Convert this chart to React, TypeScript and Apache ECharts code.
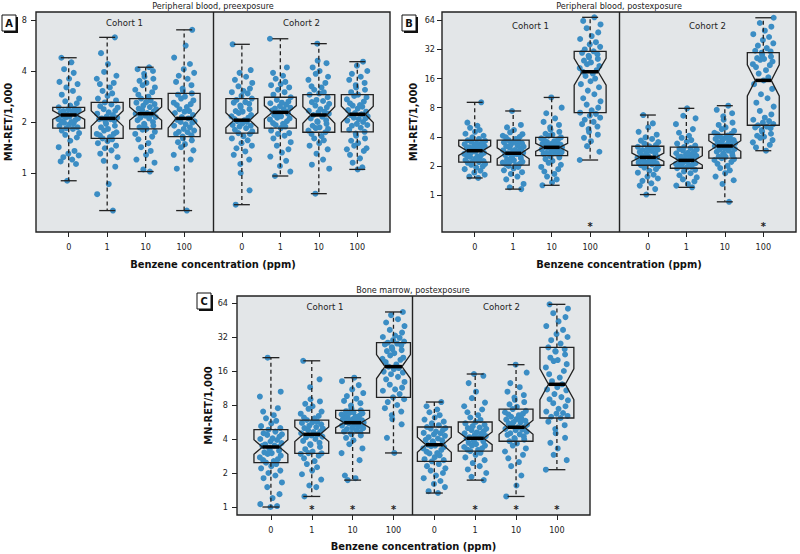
import { useEffect, useRef } from 'react';
import * as echarts from 'echarts';

// ---------------- data ----------------
const CONC_LABELS = ['0', '1', '10', '100'];
const COHORT_LABELS = ['Cohort 1', 'Cohort 2'];
const PANEL_TITLES = ['Peripheral blood, preexposure', 'Peripheral blood, postexposure', 'Bone marrow, postexposure'];
const PANEL_LETTERS = ['A', 'B', 'C'];
const X_TITLE = 'Benzene concentration (ppm)';
const Y_TITLE = 'MN-RET/1,000';
const Y_TICKS_A = [1, 2, 4, 8];
const Y_TICKS_BC = [1, 2, 4, 8, 16, 32, 64];

// box statistics per group: [lower whisker, Q1, median, Q3, upper whisker]
// group order: cohort 1 (0, 1, 10, 100 ppm), cohort 2 (0, 1, 10, 100 ppm)
const A_BOX = [
  [0.90, 1.84, 2.20, 2.44, 4.79],
  [0.60, 1.60, 2.10, 2.61, 6.32],
  [1.02, 1.82, 2.24, 2.75, 4.21],
  [0.60, 1.64, 2.10, 2.95, 7.0],
  [0.65, 1.72, 2.05, 2.75, 5.75],
  [0.96, 1.84, 2.28, 2.80, 6.2],
  [0.755, 1.74, 2.20, 2.90, 5.80],
  [1.05, 1.75, 2.22, 2.90, 4.54],
];
const B_BOX = [
  [1.50, 2.19, 2.87, 3.68, 9.08],
  [1.15, 2.04, 2.70, 3.70, 7.39],
  [1.26, 2.55, 3.11, 3.95, 10.2],
  [2.30, 7.09, 18.8, 30.6, 68.7],
  [1.01, 2.03, 2.45, 3.19, 6.71],
  [1.20, 1.89, 2.28, 3.13, 7.87],
  [0.85, 2.40, 3.21, 4.24, 8.38],
  [2.87, 5.26, 15.3, 29.6, 68.0],
];
const C_BOX = [
  [1.0, 2.47, 3.40, 4.84, 21.0],
  [1.24, 2.99, 4.40, 5.89, 19.7],
  [1.73, 4.52, 5.58, 7.18, 13.96],
  [3.01, 9.36, 17.5, 28.5, 53.3],
  [1.33, 2.54, 3.56, 5.11, 8.50],
  [1.73, 3.13, 4.06, 5.66, 15.05],
  [1.24, 3.82, 5.08, 7.37, 18.2],
  [2.14, 6.14, 12.2, 25.9, 62.3],
];

// significance markers (*) per group
const B_STAR = [false, false, false, true, false, false, false, true];
const C_STAR = [false, true, true, true, false, true, true, true];

// individual animals (MN-RET per 1,000)
const A_PTS = [
  [0.90, 1.13, 1.17, 1.2, 1.24, 1.27, 1.3, 1.35, 1.42, 1.55, 1.62, 1.68, 1.72, 1.78, 1.82, 1.84, 1.86, 1.9, 1.93, 1.96, 1.98, 2.0, 2.02, 2.05, 2.08, 2.1, 2.12, 2.15, 2.18, 2.2, 2.2, 2.22, 2.25, 2.27, 2.3, 2.32, 2.35, 2.38, 2.4, 2.44, 2.5, 2.58, 2.65, 2.75, 2.9, 3.05, 3.2, 3.35, 3.45, 3.6, 3.9, 4.1, 4.5, 4.79],
  [0.60, 0.75, 0.86, 1.09, 1.18, 1.24, 1.3, 1.36, 1.4, 1.45, 1.5, 1.54, 1.58, 1.6, 1.63, 1.67, 1.7, 1.7, 1.74, 1.78, 1.82, 1.86, 1.9, 1.95, 2.0, 2.04, 2.08, 2.08, 2.1, 2.12, 2.16, 2.2, 2.24, 2.28, 2.33, 2.38, 2.43, 2.48, 2.54, 2.61, 2.68, 2.75, 2.85, 2.95, 3.05, 3.2, 3.35, 3.4, 3.6, 3.75, 3.95, 4.4, 5.1, 6.32],
  [1.02, 1.05, 1.15, 1.2, 1.28, 1.35, 1.42, 1.5, 1.58, 1.64, 1.7, 1.75, 1.8, 1.82, 1.86, 1.9, 1.92, 1.95, 2.0, 2.05, 2.1, 2.12, 2.14, 2.18, 2.22, 2.24, 2.26, 2.3, 2.35, 2.38, 2.4, 2.45, 2.5, 2.55, 2.6, 2.62, 2.68, 2.75, 2.82, 2.9, 3.0, 3.1, 3.2, 3.3, 3.4, 3.5, 3.6, 3.7, 3.85, 4.0, 4.1, 4.21],
  [0.60, 1.06, 1.2, 1.28, 1.36, 1.42, 1.48, 1.52, 1.56, 1.6, 1.64, 1.67, 1.7, 1.74, 1.75, 1.78, 1.82, 1.86, 1.9, 1.94, 1.98, 2.0, 2.02, 2.06, 2.1, 2.14, 2.2, 2.26, 2.3, 2.32, 2.38, 2.45, 2.52, 2.55, 2.6, 2.68, 2.75, 2.82, 2.9, 2.95, 3.05, 3.15, 3.3, 3.45, 3.6, 3.75, 3.9, 4.1, 4.4, 4.8, 5.65, 7.0],
  [0.65, 0.79, 1.0, 1.13, 1.2, 1.28, 1.34, 1.4, 1.45, 1.5, 1.56, 1.6, 1.65, 1.7, 1.72, 1.76, 1.8, 1.84, 1.88, 1.9, 1.92, 1.96, 2.0, 2.02, 2.05, 2.08, 2.12, 2.16, 2.2, 2.26, 2.3, 2.32, 2.38, 2.45, 2.5, 2.56, 2.6, 2.62, 2.7, 2.75, 2.85, 2.95, 3.0, 3.05, 3.15, 3.25, 3.4, 3.55, 3.7, 3.9, 4.05, 5.75],
  [0.96, 1.02, 1.1, 1.18, 1.25, 1.32, 1.38, 1.45, 1.52, 1.6, 1.66, 1.7, 1.72, 1.78, 1.84, 1.88, 1.92, 1.95, 1.97, 2.02, 2.07, 2.1, 2.12, 2.16, 2.2, 2.24, 2.26, 2.28, 2.3, 2.34, 2.38, 2.4, 2.43, 2.48, 2.53, 2.58, 2.6, 2.64, 2.7, 2.8, 2.9, 3.0, 3.1, 3.2, 3.3, 3.35, 3.45, 3.6, 3.75, 3.9, 4.2, 6.2],
  [0.755, 1.06, 1.12, 1.2, 1.3, 1.38, 1.45, 1.5, 1.56, 1.6, 1.65, 1.7, 1.74, 1.78, 1.82, 1.84, 1.86, 1.9, 1.95, 2.0, 2.02, 2.05, 2.1, 2.15, 2.2, 2.24, 2.28, 2.3, 2.33, 2.38, 2.44, 2.5, 2.56, 2.62, 2.66, 2.7, 2.8, 2.9, 2.95, 3.0, 3.1, 3.2, 3.25, 3.4, 3.55, 3.7, 3.85, 4.0, 4.2, 4.45, 4.6, 5.8],
  [1.05, 1.08, 1.15, 1.22, 1.28, 1.35, 1.38, 1.4, 1.45, 1.5, 1.55, 1.6, 1.66, 1.71, 1.75, 1.8, 1.85, 1.9, 1.92, 1.95, 2.0, 2.04, 2.08, 2.1, 2.12, 2.16, 2.2, 2.22, 2.26, 2.3, 2.35, 2.4, 2.46, 2.5, 2.52, 2.58, 2.64, 2.72, 2.8, 2.85, 2.9, 3.0, 3.1, 3.2, 3.3, 3.4, 3.55, 3.7, 3.85, 4.0, 4.3, 4.54],
];
const B_PTS = [
  [1.5, 1.55, 1.62, 1.7, 1.78, 1.85, 1.92, 1.98, 2.05, 2.1, 2.15, 2.19, 2.2, 2.24, 2.3, 2.36, 2.42, 2.48, 2.5, 2.55, 2.6, 2.66, 2.72, 2.78, 2.8, 2.84, 2.87, 2.9, 2.95, 3.0, 3.06, 3.1, 3.12, 3.18, 3.25, 3.32, 3.35, 3.4, 3.48, 3.56, 3.62, 3.68, 3.8, 3.95, 4.1, 4.3, 4.5, 4.7, 4.95, 5.2, 5.6, 9.08],
  [1.15, 1.2, 1.3, 1.45, 1.55, 1.65, 1.72, 1.8, 1.88, 1.95, 2.0, 2.04, 2.08, 2.1, 2.16, 2.2, 2.22, 2.28, 2.34, 2.4, 2.46, 2.52, 2.58, 2.6, 2.64, 2.7, 2.74, 2.8, 2.86, 2.9, 2.92, 3.0, 3.08, 3.16, 3.2, 3.24, 3.32, 3.42, 3.5, 3.52, 3.62, 3.7, 3.8, 3.95, 4.0, 4.1, 4.25, 4.45, 4.7, 5.0, 5.3, 7.39],
  [1.26, 1.35, 1.45, 1.55, 1.65, 1.75, 1.85, 1.95, 2.05, 2.15, 2.25, 2.35, 2.45, 2.5, 2.55, 2.6, 2.66, 2.7, 2.72, 2.78, 2.84, 2.9, 2.96, 3.0, 3.02, 3.08, 3.11, 3.15, 3.2, 3.26, 3.32, 3.38, 3.4, 3.45, 3.52, 3.6, 3.68, 3.76, 3.85, 3.95, 4.1, 4.2, 4.3, 4.5, 4.75, 5.0, 5.3, 5.7, 6.2, 7.0, 8.0, 10.2],
  [2.3, 2.8, 3.2, 3.6, 3.9, 4.2, 4.5, 4.8, 5.1, 5.4, 5.7, 6.0, 6.3, 6.6, 6.9, 7.09, 7.5, 8.0, 8.6, 9.3, 10.0, 11.0, 12.0, 13.0, 14.0, 15.0, 16.0, 17.0, 18.0, 18.8, 19.5, 20.5, 21.5, 22.5, 23.5, 24.5, 25.5, 26.5, 27.5, 28.5, 29.5, 30.6, 32, 34, 36, 38, 41, 44, 48, 53, 58, 63, 68.7],
  [1.01, 1.15, 1.25, 1.32, 1.4, 1.48, 1.55, 1.62, 1.7, 1.78, 1.85, 1.92, 1.98, 2.03, 2.07, 2.1, 2.12, 2.16, 2.2, 2.25, 2.28, 2.3, 2.34, 2.38, 2.42, 2.45, 2.48, 2.5, 2.55, 2.6, 2.66, 2.7, 2.72, 2.78, 2.85, 2.92, 2.95, 3.0, 3.08, 3.15, 3.19, 3.28, 3.4, 3.52, 3.65, 3.8, 3.95, 4.2, 4.5, 5.0, 5.5, 6.71],
  [1.2, 1.25, 1.3, 1.38, 1.45, 1.52, 1.6, 1.68, 1.75, 1.82, 1.89, 1.93, 1.95, 1.97, 2.01, 2.05, 2.09, 2.1, 2.13, 2.17, 2.21, 2.25, 2.28, 2.3, 2.32, 2.37, 2.42, 2.48, 2.5, 2.54, 2.6, 2.66, 2.7, 2.73, 2.8, 2.88, 2.96, 3.0, 3.05, 3.13, 3.25, 3.4, 3.55, 3.7, 3.9, 4.1, 4.4, 4.8, 5.4, 6.2, 6.6, 7.87],
  [0.85, 1.3, 1.42, 1.55, 1.68, 1.8, 1.9, 2.0, 2.1, 2.2, 2.3, 2.35, 2.4, 2.48, 2.5, 2.56, 2.64, 2.7, 2.72, 2.8, 2.88, 2.96, 3.0, 3.04, 3.12, 3.21, 3.28, 3.3, 3.36, 3.44, 3.52, 3.6, 3.65, 3.7, 3.8, 3.9, 3.95, 4.0, 4.12, 4.24, 4.3, 4.4, 4.6, 4.8, 5.0, 5.3, 5.6, 6.0, 6.5, 7.0, 7.6, 8.38],
  [2.87, 3.1, 3.3, 3.5, 3.7, 3.9, 4.0, 4.1, 4.3, 4.5, 4.7, 4.9, 5.0, 5.1, 5.26, 5.4, 5.6, 5.8, 6.0, 6.3, 6.8, 7.4, 8.2, 9.0, 10.0, 11.0, 12.5, 14.0, 15.3, 16.5, 18.0, 19.5, 21.0, 22, 22.5, 24.0, 25.0, 25.5, 26.0, 27.0, 28.0, 29.6, 30.5, 31, 33, 35, 37, 40, 43, 46, 50, 55, 60, 68.0],
];
const C_PTS = [
  [1.0, 1.02, 1.06, 1.2, 1.3, 1.5, 1.65, 1.8, 1.9, 2.0, 2.1, 2.2, 2.3, 2.4, 2.47, 2.55, 2.6, 2.65, 2.75, 2.85, 2.95, 3.0, 3.05, 3.15, 3.25, 3.35, 3.4, 3.48, 3.5, 3.58, 3.68, 3.8, 3.92, 4.0, 4.05, 4.2, 4.35, 4.4, 4.5, 4.65, 4.84, 5.0, 5.2, 5.5, 5.8, 6.1, 6.5, 7.0, 7.5, 9.5, 10.5, 21.0],
  [1.24, 1.5, 1.55, 1.75, 1.95, 2.1, 2.25, 2.4, 2.55, 2.7, 2.85, 2.95, 2.99, 3.0, 3.1, 3.25, 3.4, 3.55, 3.6, 3.7, 3.85, 4.0, 4.15, 4.2, 4.3, 4.4, 4.5, 4.6, 4.65, 4.8, 4.95, 5.0, 5.1, 5.25, 5.4, 5.55, 5.6, 5.7, 5.89, 6.1, 6.2, 6.4, 6.7, 7.0, 7.4, 7.8, 8.2, 8.6, 9.0, 11.5, 13.5, 19.7],
  [1.73, 1.8, 1.9, 2.6, 3.0, 3.3, 3.6, 3.9, 4.1, 4.3, 4.4, 4.52, 4.6, 4.65, 4.78, 4.9, 5.0, 5.02, 5.14, 5.26, 5.3, 5.38, 5.5, 5.58, 5.66, 5.7, 5.76, 5.86, 5.96, 6.0, 6.08, 6.2, 6.32, 6.4, 6.45, 6.6, 6.75, 6.8, 6.9, 7.05, 7.18, 7.5, 7.9, 8.3, 8.7, 9.1, 9.6, 10.2, 11.0, 12.0, 13.0, 13.96],
  [3.01, 4.1, 5.4, 6.0, 6.5, 7.0, 7.5, 8.0, 8.5, 9.0, 9.36, 10.0, 10.7, 11.0, 11.4, 12.1, 12.8, 13.5, 14.2, 15.0, 15.5, 15.8, 16.6, 17.0, 17.5, 18.3, 19.2, 20.1, 20.5, 21.0, 22.0, 23.0, 24.0, 24.5, 25.0, 26.0, 27.0, 27.5, 28.0, 28.5, 29.2, 30, 31.5, 32, 33, 35, 37, 40, 43, 46, 50, 53.3],
  [1.33, 1.38, 1.5, 1.6, 1.7, 1.8, 1.9, 2.0, 2.1, 2.2, 2.3, 2.4, 2.54, 2.6, 2.65, 2.76, 2.87, 2.98, 3.0, 3.09, 3.2, 3.3, 3.4, 3.45, 3.5, 3.56, 3.62, 3.72, 3.82, 3.9, 3.93, 4.04, 4.15, 4.27, 4.4, 4.5, 4.53, 4.66, 4.8, 4.95, 5.0, 5.11, 5.3, 5.5, 5.7, 5.95, 6.2, 6.5, 6.9, 7.3, 7.8, 8.5],
  [1.73, 1.85, 2.0, 2.15, 2.3, 2.45, 2.6, 2.75, 2.9, 3.02, 3.13, 3.2, 3.22, 3.31, 3.4, 3.5, 3.5, 3.6, 3.7, 3.8, 3.85, 3.9, 3.98, 4.06, 4.1, 4.15, 4.25, 4.35, 4.46, 4.5, 4.57, 4.68, 4.8, 4.93, 5.0, 5.06, 5.2, 5.35, 5.5, 5.66, 5.9, 6.2, 6.5, 6.9, 7.3, 7.8, 8.4, 9.2, 10.5, 12.5, 14.5, 15.05],
  [1.24, 1.55, 1.9, 2.3, 2.5, 2.7, 2.9, 3.1, 3.3, 3.5, 3.65, 3.82, 3.95, 4.0, 4.08, 4.22, 4.36, 4.4, 4.5, 4.64, 4.78, 4.85, 4.92, 5.08, 5.1, 5.2, 5.35, 5.5, 5.6, 5.65, 5.8, 5.95, 6.0, 6.1, 6.3, 6.5, 6.6, 6.7, 6.9, 7.1, 7.37, 7.7, 8.1, 8.5, 8.9, 9.3, 9.8, 10.5, 11.5, 12.5, 15.5, 18.2],
  [2.14, 2.6, 2.9, 3.3, 3.7, 4.1, 4.5, 4.9, 5.3, 5.7, 6.14, 6.3, 6.4, 6.7, 6.8, 7.0, 7.4, 7.8, 8.3, 8.8, 9.0, 9.4, 10.0, 10.8, 11.0, 11.5, 12.2, 13.0, 14.0, 15.0, 16.0, 17.2, 18.4, 19.6, 20.0, 21.0, 22.4, 23.8, 24.0, 25.0, 25.9, 28, 30, 32, 34, 37, 40, 44, 48, 52, 57, 62.3],
];

// ---------------- layout / style ----------------
const FONT = "'Liberation Sans Narrow', 'DejaVu Sans Condensed', 'Roboto Condensed', 'Liberation Sans', Arial, sans-serif";
const DOT = '#3b8dc4';
const INK = '#222222';
const PANEL_BG = '#e3e6e8';
const BOX_W = 0.83;
const POS_AB = [1, 2, 3, 4, 5.5, 6.5, 7.5, 8.5];
const POS_C = [1, 2, 3, 4, 5, 6, 7, 8];
const JITTER = [-0.04, 0.19, -0.21, 0.09, -0.14, 0.26, -0.01, 0.15, -0.26, 0.04, 0.21, -0.09, 0.27, -0.18, 0.11, -0.06, 0.23, -0.24, 0.01, 0.13, -0.12, 0.07, -0.19, 0.17, -0.27, 0.24, -0.08, 0.02, -0.16, 0.2, -0.03];

const PANELS = [
  { box: A_BOX, pts: A_PTS, star: null as boolean[] | null, starLevel: 0, pos: POS_AB, yTicks: Y_TICKS_A,
    grid: { left: 36, top: 12, width: 354, height: 220 }, x: [0.15, 9.35], y: [-1.157, 3.157], divider: 4.75,
    yGap: 22, yMargin: 9, xGap: 27, title: [213, 6], cohorts: [[124.5, 22], [301.5, 22]], letter: [2, 15] },
  { box: B_BOX, pts: B_PTS, star: B_STAR, starLevel: -1.03, pos: POS_AB, yTicks: Y_TICKS_BC,
    grid: { left: 442, top: 12, width: 354, height: 220 }, x: [0.15, 9.35], y: [-1.271, 6.285], divider: 4.75,
    yGap: 23, yMargin: 7, xGap: 27, title: [619, 6], cohorts: [[530.5, 25], [707.5, 25]], letter: [402, 15] },
  { box: C_BOX, pts: C_PTS, star: C_STAR, starLevel: 0, pos: POS_C, yTicks: Y_TICKS_BC,
    grid: { left: 237, top: 296, width: 353, height: 219 }, x: [0.17, 8.81], y: [-0.235, 6.206], divider: 4.475,
    yGap: 23, yMargin: 9, xGap: 26, title: [413, 290], cohorts: [[325, 306], [501.5, 306]], letter: [197, 293] },
];

function renderBox(_params: any, api: any) {
  const x = api.value(0);
  const lo = api.value(1), q1 = api.value(2), med = api.value(3), q3 = api.value(4), hi = api.value(5), n = api.value(6);
  const notch = (1.58 * (q3 - q1)) / Math.sqrt(n);
  const Y = (v: number) => api.coord([x, v])[1];
  const cx = api.coord([x, med])[0];
  const hw = api.size([BOX_W, 0])[0] / 2;
  const yq1 = Y(q1), yq3 = Y(q3), ymed = Y(med), ynlo = Y(med - notch), ynhi = Y(med + notch), ylo = Y(lo), yhi = Y(hi);
  const line = { stroke: INK, lineWidth: 1.3 };
  return {
    type: 'group',
    children: [
      { type: 'line', shape: { x1: cx, y1: yq3, x2: cx, y2: yhi }, style: { ...line, lineDash: [4, 3] } },
      { type: 'line', shape: { x1: cx, y1: yq1, x2: cx, y2: ylo }, style: { ...line, lineDash: [4, 3] } },
      { type: 'line', shape: { x1: cx - hw / 2, y1: yhi, x2: cx + hw / 2, y2: yhi }, style: line },
      { type: 'line', shape: { x1: cx - hw / 2, y1: ylo, x2: cx + hw / 2, y2: ylo }, style: line },
      {
        type: 'polygon',
        shape: {
          points: [
            [cx - hw, yq1], [cx + hw, yq1], [cx + hw, ynlo], [cx + hw / 2, ymed], [cx + hw, ynhi],
            [cx + hw, yq3], [cx - hw, yq3], [cx - hw, ynhi], [cx - hw / 2, ymed], [cx - hw, ynlo],
          ],
        },
        style: { fill: 'none', ...line },
      },
      { type: 'line', shape: { x1: cx - hw / 2, y1: ymed, x2: cx + hw / 2, y2: ymed }, style: { stroke: '#000', lineWidth: 3.5 } },
    ],
  };
}

function renderStar(_params: any, api: any) {
  const p = api.coord([api.value(0), api.value(1)]);
  return {
    type: 'text',
    x: p[0],
    y: p[1] + 2,
    style: { text: '*', fill: INK, font: `bold 11px ${FONT}`, align: 'center', verticalAlign: 'middle' },
  };
}

function buildOption() {
  const grid: any[] = [];
  const xAxis: any[] = [];
  const yAxis: any[] = [];
  const series: any[] = [];
  const graphic: any[] = [];

  PANELS.forEach((P, i) => {
    grid.push({ ...P.grid, show: true, backgroundColor: PANEL_BG, borderColor: INK, borderWidth: 1.4, containLabel: false });
    const pos = P.pos;
    xAxis.push({
      type: 'value', gridIndex: i, min: P.x[0], max: P.x[1],
      axisLine: { show: false, onZero: false },
      splitLine: { show: false },
      axisTick: { show: true, length: 5, lineStyle: { color: INK, width: 1 }, customValues: pos },
      axisLabel: {
        customValues: pos, margin: 10, fontSize: 9, fontFamily: FONT, color: INK,
        formatter: (v: number) => {
          const k = pos.findIndex((p) => Math.abs(p - v) < 1e-6);
          return k >= 0 ? CONC_LABELS[k % 4] : '';
        },
      },
      name: X_TITLE, nameLocation: 'middle', nameGap: P.xGap,
      nameTextStyle: { fontFamily: FONT, fontWeight: 'bold', fontSize: 11, color: '#111' },
    });
    const yTickVals = P.yTicks.map((t) => Math.log2(t));
    yAxis.push({
      type: 'value', gridIndex: i, min: P.y[0], max: P.y[1],
      axisLine: { show: false, onZero: false },
      splitLine: { show: false },
      axisTick: { show: true, length: 5, lineStyle: { color: INK, width: 1 }, customValues: yTickVals },
      axisLabel: {
        customValues: yTickVals, margin: P.yMargin, fontSize: 9, fontFamily: FONT, color: INK,
        formatter: (v: number) => String(Math.round(Math.pow(2, v))),
      },
      name: Y_TITLE, nameLocation: 'middle', nameGap: P.yGap,
      nameTextStyle: { fontFamily: FONT, fontWeight: 'bold', fontSize: 11, color: '#111' },
    });

    const pointData: number[][] = [];
    P.pts.forEach((vals, g) => {
      vals.forEach((v, k) => {
        const j = JITTER[(k + g * 7 + i * 3) % JITTER.length];
        pointData.push([pos[g] + j, Math.log2(v)]);
      });
    });
    series.push({
      type: 'scatter', xAxisIndex: i, yAxisIndex: i, data: pointData, symbolSize: 6,
      itemStyle: { color: DOT, opacity: 1 }, silent: true, z: 2,
      markLine: {
        silent: true, symbol: ['none', 'none'], label: { show: false },
        lineStyle: { color: INK, width: 1.4, type: 'solid' },
        emphasis: { disabled: true },
        data: [{ xAxis: P.divider }],
      },
    });

    const boxData = P.box.map((b, g) => [pos[g], ...b.map((v) => Math.log2(v)), P.pts[g].length]);
    series.push({
      type: 'custom', xAxisIndex: i, yAxisIndex: i, data: boxData, renderItem: renderBox, silent: true, z: 3,
      encode: { x: 0, y: [1, 5] },
    });

    if (P.star) {
      const starData = P.star.map((s, g) => (s ? [pos[g], P.starLevel] : null)).filter(Boolean);
      series.push({
        type: 'custom', xAxisIndex: i, yAxisIndex: i, data: starData, renderItem: renderStar, silent: true, z: 4,
      });
    }

    // panel title
    graphic.push({
      type: 'text', x: P.title[0], y: P.title[1],
      style: { text: PANEL_TITLES[i], fill: INK, font: `9px ${FONT}`, align: 'center', verticalAlign: 'middle' },
    });
    // cohort labels
    P.cohorts.forEach((c, ci) => {
      graphic.push({
        type: 'text', x: c[0], y: c[1],
        style: { text: COHORT_LABELS[ci], fill: INK, font: `9.5px ${FONT}`, align: 'center', verticalAlign: 'middle' },
      });
    });
    // panel letter box with drop shadow
    const [lx, ly] = P.letter;
    graphic.push({ type: 'rect', shape: { x: lx + 2, y: ly + 2, width: 14, height: 16 }, style: { fill: '#111' } });
    graphic.push({ type: 'rect', shape: { x: lx, y: ly, width: 14, height: 16 }, style: { fill: '#fff', stroke: '#111', lineWidth: 1 } });
    graphic.push({
      type: 'text', x: lx + 7, y: ly + 8.5,
      style: { text: PANEL_LETTERS[i], fill: '#111', font: `bold 11px ${FONT}`, align: 'center', verticalAlign: 'middle' },
    });
  });

  return { animation: false, backgroundColor: '#ffffff', grid, xAxis, yAxis, series, graphic };
}

export default function App() {
  const ref = useRef<HTMLDivElement>(null);
  useEffect(() => {
    if (!ref.current) return;
    const chart = echarts.init(ref.current, undefined, { renderer: 'svg' });
    chart.setOption(buildOption() as any);
    return () => chart.dispose();
  }, []);
  return <div ref={ref} style={{ position: 'fixed', left: 0, top: 0, width: 800, height: 554, background: '#fff' }} />;
}
